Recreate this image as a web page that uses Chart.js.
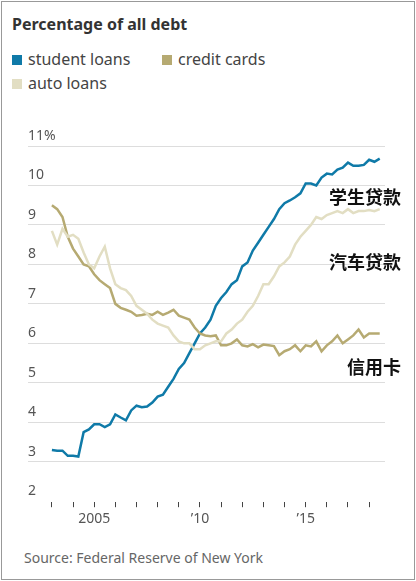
<!DOCTYPE html>
<html><head><meta charset="utf-8">
<script src="https://cdn.jsdelivr.net/npm/chart.js@4"></script>
<style>
body{margin:0;width:416px;height:581px;background:#fff;font-family:"Noto Sans","Open Sans",sans-serif;position:relative;overflow:hidden}
#frame{position:absolute;left:1px;top:1px;width:412px;height:577px;border:1px solid #999}
#title{position:absolute;left:12px;top:13px;font-size:16px;font-weight:bold;color:#333}
.lg{position:absolute;font-size:16px;color:#444}
.sw{display:inline-block;width:10px;height:10px;margin-right:6px}
#src{position:absolute;left:24px;top:548px;font-size:14px;color:#666}
#wrap{position:absolute;left:0;top:120px;width:416px;height:420px}
</style></head><body>
<div id="frame"></div>
<div id="title">Percentage of all debt</div>
<div class="lg" style="left:12px;top:48px"><span class="sw" style="background:#0f7aa8"></span>student loans</div>
<div class="lg" style="left:162px;top:48px"><span class="sw" style="background:#b6aa72"></span>credit cards</div>
<div class="lg" style="left:12px;top:72px"><span class="sw" style="background:#e2dec3"></span>auto loans</div>
<div id="src">Source: Federal Reserve of New York</div>
<div id="wrap"><canvas id="c"></canvas></div>
<script>
const startYear = 2003;
const studentLoans = [3.3,3.28,3.28,3.15, 3.15,3.13,3.75,3.82, 3.95,3.95,3.88,3.95, 4.2,4.12,4.05,4.3, 4.42,4.38,4.4,4.5, 4.65,4.7,4.9,5.1, 5.35,5.5,5.75,6.0, 6.25,6.4,6.6,6.95, 7.15,7.3,7.5,7.6, 7.95,8.05,8.35,8.55, 8.75,8.95,9.15,9.4, 9.55,9.62,9.7,9.8, 10.05,10.05,10.0,10.2, 10.3,10.28,10.4,10.45, 10.58,10.5,10.5,10.52, 10.65,10.6,10.68];
const creditCards = [9.5,9.4,9.2,8.7, 8.4,8.2,8.0,7.95, 7.75,7.6,7.5,7.4, 7.0,6.9,6.85,6.8, 6.7,6.72,6.75,6.72, 6.8,6.72,6.78,6.85, 6.7,6.65,6.6,6.4, 6.25,6.2,6.18,6.2, 5.95,5.95,6.0,6.1, 5.95,5.92,5.98,5.9, 5.97,5.95,5.93,5.7, 5.8,5.85,5.95,5.8, 5.95,5.92,6.05,5.8, 5.95,6.05,6.2,6.0, 6.1,6.2,6.35,6.15, 6.25,6.25,6.25];
const autoLoans = [8.85,8.5,8.9,8.7, 8.75,8.65,8.3,8.0, 7.9,8.2,8.45,7.9, 7.5,7.4,7.35,7.2, 6.95,6.85,6.75,6.6, 6.5,6.45,6.4,6.2, 6.05,6.0,6.0,5.85, 5.85,5.95,6.0,6.05, 6.05,6.25,6.35,6.5, 6.6,6.8,6.95,7.2, 7.5,7.5,7.7,7.95, 8.05,8.2,8.5,8.7, 8.85,9.0,9.2,9.15, 9.25,9.3,9.35,9.3, 9.4,9.3,9.35,9.35, 9.38,9.35,9.4];
const yTicks = [2,3,4,5,6,7,8,9,10,11];
const xLabels = {2005:'2005',2010:'\u201910',2015:'\u201915'};
const endLabels = [{text:'学生贷款',y:9.7},{text:'汽车贷款',y:8.05},{text:'信用卡',y:5.4}];
const toPts = arr => arr.map((v,i)=>({x:startYear+i*0.25,y:v}));

const overlay = {id:'overlay',afterDraw(ch){
  const c=ch.ctx,ys=ch.scales.y,a=ch.chartArea;
  c.save();
  c.font='14px "Noto Sans"';c.fillStyle='#555';c.textBaseline='bottom';c.textAlign='left';
  yTicks.forEach(t=>c.fillText(t===11?'11%':String(t),a.left,ys.getPixelForValue(t)-3));
  c.font='bold 18px "Noto Sans CJK SC"';c.fillStyle='#111';c.textAlign='right';c.textBaseline='middle';
  endLabels.forEach(l=>c.fillText(l.text,a.right+16,ys.getPixelForValue(l.y)));
  c.restore();
}};
new Chart(document.getElementById('c'),{
  type:'line',
  data:{datasets:[
    {label:'auto loans',data:toPts(autoLoans),borderColor:'#e2dec3',borderWidth:2.5,pointRadius:0,tension:0},
    {label:'credit cards',data:toPts(creditCards),borderColor:'#b6aa72',borderWidth:2.5,pointRadius:0,tension:0},
    {label:'student loans',data:toPts(studentLoans),borderColor:'#0f7aa8',borderWidth:2.5,pointRadius:0,tension:0}
  ]},
  options:{responsive:true,maintainAspectRatio:false,animation:false,
    layout:{padding:{top:26,left:28,right:31,bottom:10}},
    plugins:{legend:{display:false},tooltip:{enabled:false}},
    scales:{
      x:{type:'linear',min:2001.87,max:2018.75,
        afterBuildTicks(s){s.ticks=[];for(let y=2003;y<=2018;y++)s.ticks.push({value:y});},
        ticks:{autoSkip:false,maxRotation:0,color:'#555',font:{size:14,family:'Noto Sans'},callback:v=>xLabels[v]||''},
        grid:{drawOnChartArea:false,drawTicks:true,tickLength:6,color:'#444'},
        border:{color:'#fff'}},
      y:{min:2,max:11,
        afterBuildTicks(s){s.ticks=yTicks.map(v=>({value:v}));},
        ticks:{display:false},
        grid:{color:'#ddd',drawTicks:false},border:{display:false}}
    }},
  plugins:[overlay]
});
</script></body></html>
